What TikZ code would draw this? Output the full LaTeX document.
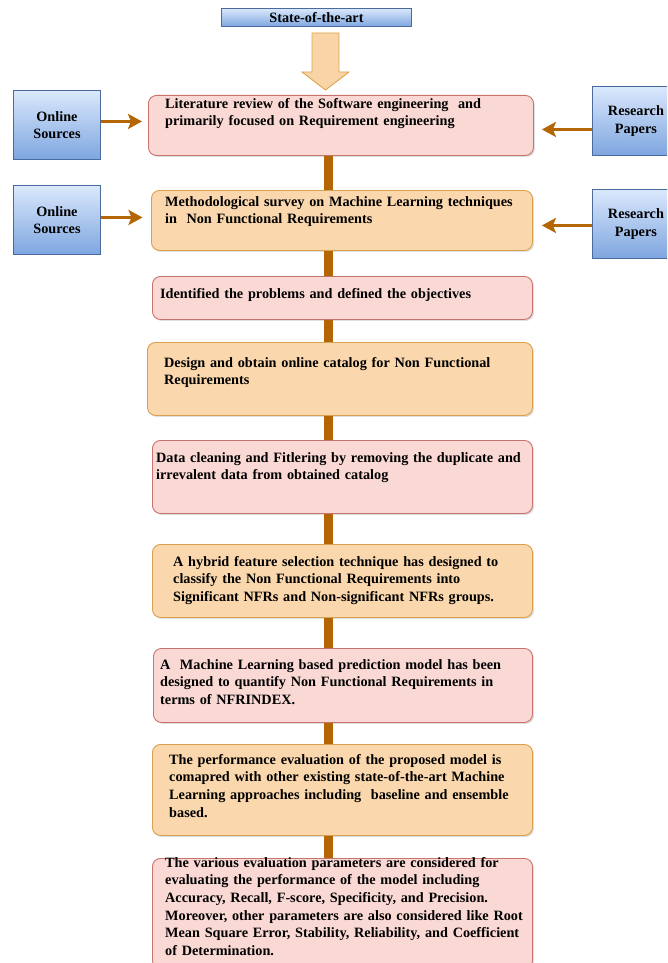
\documentclass[tikz,border=0pt]{standalone}
\usepackage{fontspec}
\setmainfont{Liberation Serif}
\usetikzlibrary{shadows,arrows.meta}

\definecolor{pinkfill}{HTML}{FAD9D5}
\definecolor{pinkline}{HTML}{C8736E}
\definecolor{orangefill}{HTML}{FAD7AC}
\definecolor{orangeline}{HTML}{D9A14E}
\definecolor{bluetop}{HTML}{DAE8FC}
\definecolor{bluebottom}{HTML}{7EA6E0}
\definecolor{blueline}{HTML}{4A6B9C}
\definecolor{linkbrown}{HTML}{B46504}
\definecolor{arrowfill}{HTML}{F9D4A6}
\definecolor{arrowline}{HTML}{DDA550}

\newcommand\diagfont{\fontsize{14.25}{17.6}\selectfont\bfseries}

\tikzset{
  panel/.style={draw, rounded corners=8pt, line width=0.9pt, inner sep=0pt,
    anchor=north west,
    drop shadow={shadow xshift=1.5pt, shadow yshift=-1.5pt, opacity=0.25}},
  pinkbox/.style={panel, fill=pinkfill, draw=pinkline},
  orangebox/.style={panel, fill=orangefill, draw=orangeline},
  source/.style={draw=blueline, top color=bluetop, bottom color=bluebottom,
    line width=0.9pt, anchor=north west, inner sep=0pt, align=center,
    font=\diagfont},
  boxtext/.style={anchor=north west, inner sep=0pt, text width=380pt,
    align=left, font=\diagfont, execute at begin node=\strut},
  spineline/.style={draw=linkbrown, line width=9pt},
  feed/.style={draw=linkbrown, line width=3pt,
    -{Stealth[length=14pt,width=15pt,inset=3pt]}},
}

\begin{document}
\begin{tikzpicture}[x=1pt,y=-1pt]
\useasboundingbox (0,0) rectangle (667,963);
\clip (0,0) rectangle (667,963);
\coordinate (spine) at (328.5,0);

% header and block arrow
\node[source, minimum width=190pt, minimum height=18pt] (state) at (221,8) {State-of-the-art};
\draw[draw=arrowline, fill=arrowfill, line width=0.9pt]
  (312,33) -- (339,33) -- (339,72) -- (349,72) -- (325.5,90) -- (302,72) -- (312,72) -- cycle;

% process boxes
\node[pinkbox,   minimum width=385pt, minimum height=60pt]  (b1) at (148,95)  {};
\node[orangebox, minimum width=381pt, minimum height=60pt]  (b2) at (151,190) {};
\node[pinkbox,   minimum width=380pt, minimum height=43pt]  (b3) at (152,276) {};
\node[orangebox, minimum width=385pt, minimum height=73pt]  (b4) at (147,342) {};
\node[pinkbox,   minimum width=380pt, minimum height=73pt]  (b5) at (152,440) {};
\node[orangebox, minimum width=380pt, minimum height=73pt]  (b6) at (152,544) {};
\node[pinkbox,   minimum width=379pt, minimum height=74pt]  (b7) at (153,648) {};
\node[orangebox, minimum width=380pt, minimum height=91pt]  (b8) at (152,744) {};
\node[pinkbox,   minimum width=380pt, minimum height=110pt] (b9) at (152,858) {};

% box texts
\node[boxtext] (t1) at (165,95.75) {Literature review of the Software engineering~ and\\primarily focused on Requirement engineering};
\node[boxtext] (t2) at (165,193.75) {Methodological survey on Machine Learning techniques\\in~ Non Functional Requirements};
\node[boxtext] (t3) at (160,285.75) {Identified the problems and defined the objectives};
\node[boxtext] (t4) at (164,354.75) {Design and obtain online catalog for Non Functional\\Requirements};
\node[boxtext] (t5) at (156,449.75) {Data cleaning and Fitlering by removing the duplicate and\\irrevalent data from obtained catalog};
\node[boxtext] (t6) at (173,553.75) {A hybrid feature selection technique has designed to\\classify the Non Functional Requirements into\\Significant NFRs and Non-significant NFRs groups.};
\node[boxtext] (t7) at (160,656.75) {A~ Machine Learning based prediction model has been\\designed to quantify Non Functional Requirements in\\terms of NFRINDEX.};
\node[boxtext] (t8) at (169,751.75) {The performance evaluation of the proposed model is\\comapred with other existing state-of-the-art Machine\\Learning approaches including~ baseline and ensemble\\based.};
\node[boxtext] (t9) at (165,854.75) {The various evaluation parameters are considered for\\evaluating the performance of the model including\\Accuracy, Recall, F-score, Specificity, and Precision.\\Moreover, other parameters are also considered like Root\\Mean Square Error, Stability, Reliability, and Coefficient\\of Determination.};

% sources
\node[source, minimum width=87pt, minimum height=69pt] (os1) at (13,90)  {Online\\Sources};
\node[source, minimum width=87pt, minimum height=69pt] (os2) at (13,185) {Online\\Sources};
\node[source, minimum width=87pt, minimum height=69pt] (rp1) at (592,86)  {Research\\Papers};
\node[source, minimum width=87pt, minimum height=69pt] (rp2) at (592,189) {Research\\Papers};

% vertical flow
\foreach \a/\b in {b1/b2,b2/b3,b3/b4,b4/b5,b5/b6,b6/b7,b7/b8,b8/b9}
  \draw[spineline] (\a.south -| spine) -- (\b.north -| spine);

% feeds into the first two steps
\draw[feed, shorten >=6pt]   ([yshift=3.5pt]os1.east)  -- ([yshift=3.5pt]os1.east -| b1.west);
\draw[feed, shorten >=8pt]   ([yshift=-8.5pt]rp1.west) -- ([yshift=-8.5pt]rp1.west -| b1.east);
\draw[feed, shorten >=8.5pt] ([yshift=2.5pt]os2.east)  -- ([yshift=2.5pt]os2.east -| b2.west);
\draw[feed, shorten >=9pt]   ([yshift=-1.5pt]rp2.west) -- ([yshift=-1.5pt]rp2.west -| b2.east);
\end{tikzpicture}
\end{document}
